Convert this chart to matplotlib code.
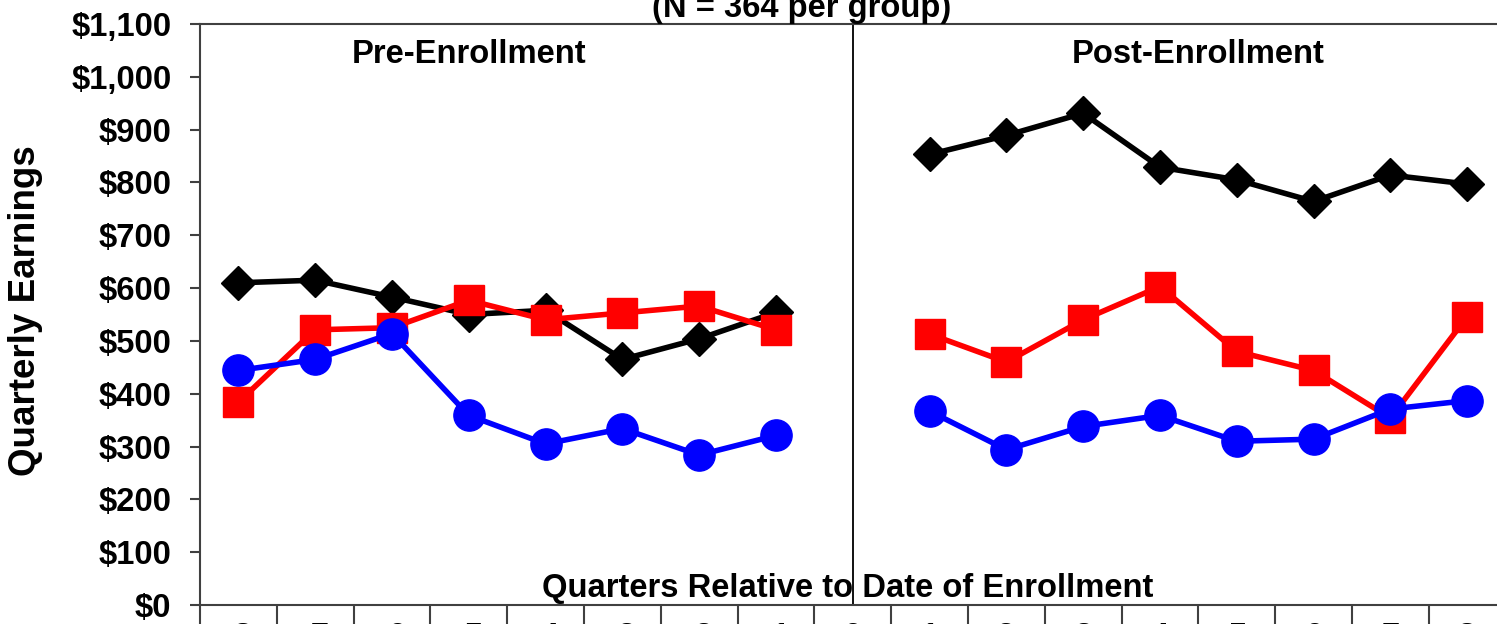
import matplotlib.pyplot as plt
import numpy as np
from matplotlib.ticker import FuncFormatter, FixedLocator

plt.rcParams["font.family"] = ["Liberation Sans", "DejaVu Sans"]
plt.rcParams["font.weight"] = "bold"

# quarters relative to enrollment (0 = enrollment quarter, no data)
pre_q = [-8, -7, -6, -5, -4, -3, -2, -1]
post_q = [1, 2, 3, 4, 5, 6, 7, 8]

black_pre = [610, 615, 583, 550, 558, 465, 504, 554]
black_post = [853, 889, 931, 829, 805, 764, 814, 797]

red_pre = [384, 521, 525, 577, 540, 553, 566, 521]
red_post = [513, 460, 540, 603, 480, 444, 354, 546]

blue_pre = [444, 465, 514, 359, 305, 334, 284, 321]
blue_post = [367, 294, 338, 359, 310, 314, 371, 387]

tick_labels = [str(q) for q in range(-8, 9)]

W, H = 1497, 624
fig = plt.figure(figsize=(W / 100, H / 100), dpi=100)
ax = fig.add_axes([200 / W, 19 / H, 17 * 76.8 / W, 581 / H])

FS = 23.6
series = [
    (black_pre, black_post, "#000000", "D", 17),
    (red_pre, red_post, "#ff0000", "s", 21),
    (blue_pre, blue_post, "#0000ff", "o", 22.5),
]
for z, (pre, post, col, mk, ms) in enumerate(series):
    for xs, ys in ((pre_q, pre), (post_q, post)):
        ax.plot(xs, ys, color=col, lw=4.0, marker=mk, ms=ms,
                mfc=col, mec=col, mew=1, zorder=3 + z, clip_on=False)

ax.set_xlim(-8.5, 8.5)
ax.set_ylim(0, 1100)

# divider between pre and post periods
ax.axvline(0, color="#101010", lw=1.4, zorder=2)

ax.set_yticks(np.arange(0, 1101, 100))
ax.yaxis.set_major_formatter(FuncFormatter(lambda v, p: f"${v:,.0f}"))
ax.tick_params(axis="y", direction="out", length=7.5, width=1.5,
               color="#404040", pad=13, labelsize=FS)

# boundary ticks between quarters, labels centred on quarters
ax.xaxis.set_major_locator(FixedLocator(np.arange(-8.5, 8.6, 1)))
ax.xaxis.set_minor_locator(FixedLocator(np.arange(-8, 9, 1)))
ax.set_xticklabels([], minor=False)
ax.set_xticklabels(tick_labels, minor=True)
ax.tick_params(axis="x", which="major", direction="out", length=20,
               width=1.5, color="#404040")
ax.tick_params(axis="x", which="minor", length=0, pad=12.6, labelsize=FS)

for s in ("left", "bottom", "top"):
    ax.spines[s].set_color("#404040")
    ax.spines[s].set_linewidth(1.5)
ax.spines["right"].set_visible(False)

ax.text(-5, 1043, "Pre-Enrollment", ha="center", va="center",
        fontsize=FS, fontweight="bold")
ax.text(4.5, 1043, "Post-Enrollment", ha="center", va="center",
        fontsize=FS, fontweight="bold")
ax.text(-0.07, 15, "Quarters Relative to Date of Enrollment", ha="center",
        va="baseline", fontsize=FS, fontweight="bold", zorder=1)

fig.text(26 / W, 1 - 310.5 / H, "Quarterly Earnings", rotation=90,
         ha="center", va="center", fontsize=26.5, fontweight="bold")
fig.text(802 / W, 1 - 17 / H, "(N = 364 per group)", ha="center",
         va="baseline", fontsize=FS, fontweight="bold")

fig.savefig("out.png", dpi=100, facecolor="white")
